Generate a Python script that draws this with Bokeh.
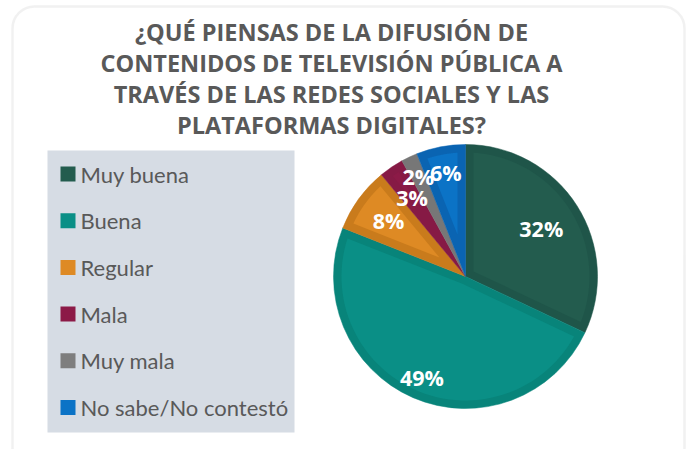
import numpy as np
from bokeh.plotting import figure
from bokeh.models import Range1d, BoxAnnotation, ColumnDataSource
from bokeh.core.properties import value
from bokeh.embed import file_html
from bokeh.resources import INLINE

# ---------------- data ----------------
title_lines = ["¿QUÉ PIENSAS DE LA DIFUSIÓN DE",
               "CONTENIDOS DE TELEVISIÓN PÚBLICA A",
               "TRAVÉS DE LAS REDES SOCIALES Y LAS",
               "PLATAFORMAS DIGITALES?"]
categories = ["Muy buena", "Buena", "Regular", "Mala", "Muy mala", "No sabe/No contestó"]
values = [32, 49, 8, 3, 2, 6]
labels = ["32%", "49%", "8%", "3%", "2%", "6%"]

# ---------------- style ----------------
colors_outer = ["#1f5549", "#08847a", "#c97b1c", "#861a45", "#777777", "#0a64b2"]
colors_inner = ["#235c4e", "#0a8f86", "#de8a24", "#8c1a47", "#7e7e7e", "#0b73c6"]
label_r = [0.68, 0.83, 0.72, 0.72, 0.84, 0.80]
FONT = "Open Sans"
LEGEND_FONT = "Lato"
TEXT_GRAY = "#595959"

W, H = 691, 449


def Y(py):  # page pixel y -> data y
    return H - py


p = figure(width=W, height=H, output_backend="svg", toolbar_location=None,
           x_range=Range1d(0, W), y_range=Range1d(0, H),
           min_border=0, outline_line_color=None, background_fill_color="white",
           border_fill_color="white")
p.axis.visible = False
p.grid.visible = False

# card
card = BoxAnnotation(left=12, right=684, top=Y(6), bottom=Y(470), border_radius=22,
                     fill_color="white", fill_alpha=1, line_color="#d2d2d2",
                     line_width=2.5, level="underlay")
p.add_layout(card)

# title
for i, line in enumerate(title_lines):
    p.text(x=[331], y=[Y(31 + i * 31)], text=[line], text_font=value(FONT),
           text_font_style="bold", text_font_size="23.5px", text_color=TEXT_GRAY,
           text_align="center", text_baseline="middle")

# legend panel
p.quad(left=[47], right=[294], top=[Y(150)], bottom=[Y(432)], fill_color="#d6dce4",
       line_color=None)
for i, cat in enumerate(categories):
    yy = Y(173.5 + i * 46.7)
    p.rect(x=[67.5], y=[yy], width=15, height=15, fill_color=colors_inner[i],
           line_color=None)
    p.text(x=[80], y=[yy], text=[cat], text_font=value(LEGEND_FONT),
           text_font_size="22px", text_color=TEXT_GRAY, text_align="left",
           text_baseline="middle")

# pie
cx, cy, R, d = 465, Y(276), 132, 8
vals = np.array(values, dtype=float)
frac = vals / vals.sum()
cum = np.concatenate([[0], np.cumsum(frac)])
starts = np.pi / 2 - 2 * np.pi * cum[:-1]
ends = np.pi / 2 - 2 * np.pi * cum[1:]

src = ColumnDataSource(dict(start=starts, end=ends, color=colors_outer))
p.wedge(x=cx, y=cy, radius=R, start_angle="start", end_angle="end",
        direction="clock", fill_color="color", line_color="color", line_width=0.5,
        source=src)

# inner lighter bevel faces
xs, ys, cs = [], [], []
for a_s, a_e, col in zip(starts, ends, colors_inner):
    half = (a_s - a_e) / 2
    mid = (a_s + a_e) / 2
    r2 = R - d
    vd = d / np.sin(half)
    if vd >= r2 - 4:
        continue
    delta = np.arcsin(d / r2)
    arc = np.linspace(a_e + delta, a_s - delta, 60)
    px = [cx + vd * np.cos(mid)] + list(cx + r2 * np.cos(arc))
    py = [cy + vd * np.sin(mid)] + list(cy + r2 * np.sin(arc))
    xs.append(px)
    ys.append(py)
    cs.append(col)
p.patches(xs=xs, ys=ys, fill_color=cs, line_color=None)

# labels
mids = (starts + ends) / 2
lx = cx + np.array(label_r) * R * np.cos(mids)
ly = cy + np.array(label_r) * R * np.sin(mids)
p.text(x=lx, y=ly, text=labels, text_font=value(FONT), text_font_style="bold",
       text_font_size="21.5px", text_color="white", text_align="center",
       text_baseline="middle")

open("out.html", "w").write(file_html(p, INLINE))
